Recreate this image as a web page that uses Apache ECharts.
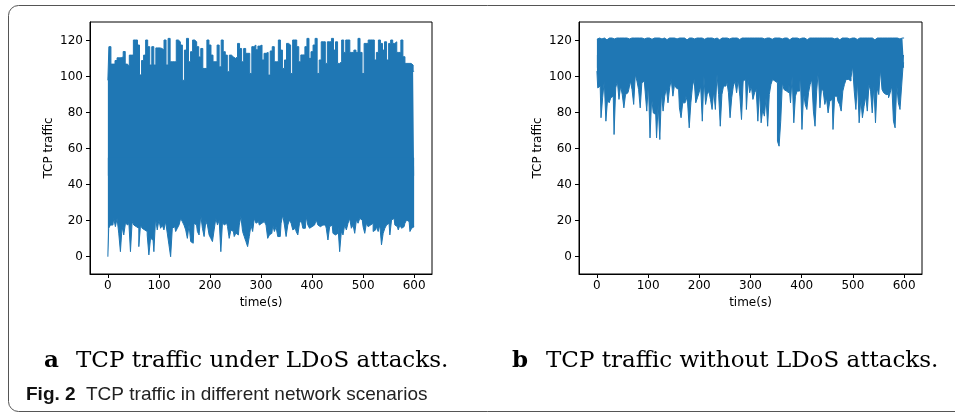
<!DOCTYPE html>
<html>
<head>
<meta charset="utf-8">
<script src="https://cdn.jsdelivr.net/npm/echarts@6/dist/echarts.min.js"></script>
<style>
  html, body { margin: 0; padding: 0; background: #fff; }
  #chart { width: 955px; height: 412px; }
</style>
</head>
<body>
<div id="chart"></div>
<script>
// time axis is 0..600 s
const duration = 600;
const xTicks = [0, 100, 200, 300, 400, 500, 600];
const yTicks = [0, 20, 40, 60, 80, 100, 120];

// (a) under LDoS attacks: upper and lower envelope of the trace
const peaksA = [98, 116.7, 107, 107, 109, 110.5, 110.5, 111, 114, 107, 106, 112, 112, 120.4, 120.4, 117.6, 101, 109, 112, 120.4,
  116.7, 106.5, 116.7, 106.5, 116, 116, 115.7, 114.8, 120.4, 106.5, 121.3, 108.3, 108.3, 108.3, 120.4, 119.4, 117.6, 98, 114.8, 121.3,
  108.3, 113.9, 120.4, 119.4, 116.7, 111, 115.7, 104.6, 104.6, 120.4, 117.6, 112, 108.3, 108.3, 117.6, 105.5, 120.4, 113.9, 112, 102.8,
  112, 111, 110.2, 111, 118.5, 115.7, 108.3, 115.7, 113, 113, 101.8, 116.7, 117.6, 115, 117,
  117.6, 109.3, 113, 113.5, 100.9, 114.3, 116.7, 108.3, 108.3, 120.4, 114.8, 104.6, 109.3, 118.5, 117.6, 101.8, 120.4, 120.4, 116.7, 108.3,
  112.1, 112.1, 116.7, 121.3, 110.2, 113.9, 117.6, 121.3, 101.8, 109.3, 119.4, 119.4, 107.4, 119.4, 119.4, 121.3, 114.8, 119.4, 107.4, 108.3,
  120.4, 113.5, 120.4, 120.4, 113.5, 113.5, 114.8, 113.5, 121.3, 113.5, 101.8, 118.5, 118.5, 120.4, 120.4, 120.4, 109.3, 113.5, 120.4, 118.5,
  114.8, 119.4, 109.3, 118.5, 120.4, 118.5, 119.4, 113.5, 113.5, 120.4, 111.1, 107.4, 107.4, 107.4, 106.5, 103];
const troughsA = [0, 15.8, 17.6, 17.6, 21.3, 16.7, 21.3, 13.1, 2.8, 16.7, 12.1, 18.6, 17.6, 19.5, 2.8, 19.5, 17.6, 16.7, 15.8, 5.6,
  17.6, 15.8, 14.9, 14.0, 12.1, 1.0, 10.2, 9.3, 2.8, 21.3, 14.9, 20.4, 15.8, 17.6, 14.9, 19.5, 13.1, 6.6, 0, 15.8,
  16.7, 14.0, 15.8, 17.6, 21.3, 19.5, 17.6, 14.9, 10.2, 17.6, 8.4, 7.5, 18.6, 17.6, 14.0, 12.1, 23.2, 15.8, 11.2, 19.5,
  17.6, 12.1, 10.2, 8.4, 14.9, 21.3, 17.6, 20.4, 2.8, 19.5, 17.6, 18.6, 16.7, 10.2, 14.9, 14.0, 11.2, 13.1, 12.1, 17.6,
  22.3, 14.0, 11.2, 8.4, 5.6, 11.2, 17.6, 14.0, 21.3, 18.6,
  19.5, 17.6, 18.6, 19.5, 20.4, 17.6, 10.2, 12.1, 13.0, 17.6, 14.0, 16.7, 11.2, 11.2, 18.6, 23.2, 17.6, 11.2, 17.6, 20.4,
  18.6, 14.9, 15.8, 14.0, 12.1, 18.6, 20.4, 15.8, 15.8, 22.3, 17.6, 15.8, 16.7, 17.6, 18.6, 20.4, 17.6, 16.7, 17.6, 16.7,
  17.6, 15.8, 9.3, 16.7, 17.6, 13.0, 12.1, 13.0, 16.7, 2.8, 14.0, 12.1, 17.6, 14.9, 18.6, 21.3, 15.8, 17.6, 13.0, 20.4,
  18.6, 21.3, 20.4, 16.7, 13.0, 18.6, 16.7, 17.6, 18.6, 14.0, 14.9, 16.7, 14.0, 17.6, 6.6, 13.0, 15.8, 17.6, 18.6, 12.1,
  20.4, 21.3, 17.6, 16.7, 14.9, 17.6, 15.8, 16.7, 18.6, 20.4, 19.5, 14.0, 15.8, 16.7];

// (b) without LDoS attacks
const peaksB = [120.8, 121.5, 121.5, 121, 121.5, 121.5, 120.5, 121.5, 121.5, 121.5, 121, 121.5, 121.5, 121.5, 120.8, 121.5, 121.5, 121.5, 121.5, 121,
  121.5, 121.5, 121.5, 120.5, 121.5, 121.5, 121.5, 121.5, 121, 121.5, 121.5, 121.5, 121.5, 120.8, 121.5, 121.5, 121.5, 121.5, 121.5, 121,
  121.5, 121.5, 120.6, 121.5, 121.5, 121.5, 121.5, 121.5, 121, 121.5, 121.5, 121.5, 121.5, 121.5, 120.5, 121.5, 121.5, 121.5, 121, 121.5,
  121.5, 121.5, 121.5, 121.5, 120.8, 121.5, 121.5, 121.5, 121.5, 121.5, 121, 121.5, 121.5, 120.5, 121.5, 121.5, 121.5, 121.5, 121.5, 121,
  121.5, 121.5, 121.5, 121.5, 121.5, 120.7, 121.5, 121.5, 121.5, 121, 121.5, 121.5, 121.5, 121.5, 121.5, 120.5, 121.5, 121.5, 121.5, 121.5,
  121, 121.5, 121.5, 121.5, 121.5, 120.8, 121.5, 121.5, 121.5, 121.5, 121.5, 121, 121.5, 121.5, 121.5, 120.5, 121.5, 121.5, 121.5, 121.5,
  121.5, 121, 121.5, 121.5, 121.5, 121.5, 120.6, 121.5, 121.5, 121.5, 121.5, 121, 121.5, 121.5, 121.5, 121.5, 121.5, 120.8, 121.5, 121.5,
  121.5, 121.5, 121, 121.5, 121.5, 120.5, 121.5, 121.5, 121.5, 121.5, 121.5, 121, 121.5, 121.5, 121.5, 121.5, 120.7, 121.5, 121.5, 121.5,
  121.5, 121, 121.5, 121.5, 121.5, 121.5, 120.5, 121.5, 121.5, 121.5, 121, 121.5, 121.5, 121.5, 121.5, 121.5, 120.8, 121.5, 121.5, 121.5,
  121.5, 121, 121.5, 121.5, 121.5];
const troughsB = [103.1, 93.8, 94.8, 77.2, 88.3, 97.6, 75.3, 87.4, 85.5, 88.3, 89.2, 67.9, 93.8, 97.6, 87.4, 94.8, 90.1, 82.7, 90.1, 91.1,
  92.9, 97.6, 92.9, 84.6, 101.3, 97.6, 92.9, 82.7, 96.6, 97.6, 92.0, 80.9, 96.6, 66.0, 88.3, 79.9, 79.0, 66.0, 84.6, 65.1,
  91.1, 80.9, 89.2, 93.8, 85.5, 93.8, 98.5, 89.2, 95.7, 93.8, 92.9, 82.7, 77.2, 85.5, 85.5, 89.2, 85.5, 71.6, 85.5, 94.8,
  98.5, 85.5, 88.3, 91.1, 94.8, 75.3, 100.3, 84.6, 90.1, 92.0, 87.4, 81.8, 92.0, 81.8, 101.3, 90.1, 72.5, 90.1, 94.8, 94.8,
  97.6, 91.1, 77.2, 88.3, 94.8, 97.6, 91.1, 98.5, 89.2, 76.2, 97.6, 98.5, 81.8, 98.5, 91.1,
  94.8, 87.4, 91.1, 92.9, 75.3, 92.9, 74.4, 81.8, 78.1, 88.3, 72.5, 90.1, 95.7, 98.5, 97.6, 96.6, 64.2, 61.4, 75.3, 96.6,
  92.9, 92.0, 91.1, 95.7, 85.5, 100.3, 74.4, 89.2, 92.0, 92.0, 102.2, 70.7, 91.1, 84.6, 81.8, 91.1, 95.7, 98.5, 80.9, 72.5,
  92.0, 103.1, 82.7, 93.8, 92.0, 84.6, 88.3, 79.9, 86.4, 87.4, 70.7, 89.2, 89.2, 86.4, 84.6, 80.9, 92.0, 95.7, 98.5, 98.5,
  97.6, 99.4, 105.9, 92.0, 81.8, 97.6, 74.4, 87.4, 77.2, 83.6, 89.2, 80.9, 95.7, 92.0, 79.9, 94.8, 74.4, 93.8, 90.1, 104.1,
  92.9, 91.1, 90.1, 90.1, 88.3, 91.1, 94.8, 75.3, 71.6, 95.7, 85.5, 81.8, 94.8, 107.7];

// each envelope on its own time grid
function onTime(values) {
  return values.map((v, i) => [duration * i / (values.length - 1), v]);
}

const blue = "#1f77b4";
const tickFont = { color: "#000", fontSize: 12, fontFamily: "DejaVu Sans" };

function xAxis(i) {
  return {
    type: "value",
    gridIndex: i,
    min: -35,
    max: 635,
    name: "time(s)",
    nameLocation: "middle",
    nameGap: 23,
    nameTextStyle: tickFont,
    axisLine: { show: true, onZero: false, lineStyle: { color: "#000", width: 1 } },
    axisTick: { show: true, length: 4, customValues: xTicks, lineStyle: { color: "#000" } },
    axisLabel: Object.assign({ margin: 6, customValues: xTicks }, tickFont),
    splitLine: { show: false },
  };
}

function yAxis(i) {
  return {
    type: "value",
    gridIndex: i,
    min: -9.6,
    max: 130.4,
    name: "TCP traffic",
    nameLocation: "middle",
    nameGap: 35,
    nameRotate: 90,
    nameTextStyle: tickFont,
    axisLine: { show: true, onZero: false, lineStyle: { color: "#000", width: 1 } },
    axisTick: { show: true, length: 4, customValues: yTicks, lineStyle: { color: "#000" } },
    axisLabel: Object.assign({ margin: 7, customValues: yTicks }, tickFont),
    splitLine: { show: false },
  };
}

// envelope drawn as steps, filled past the middle of the band so the two halves overlap
function envelope(i, values, origin) {
  return {
    type: "line",
    xAxisIndex: i,
    yAxisIndex: i,
    data: onTime(values),
    step: "middle",
    showSymbol: false,
    sampling: "none",
    lineStyle: { width: 1, color: blue },
    areaStyle: { color: blue, opacity: 1, origin: origin },
    z: 2,
  };
}

const capSerif = { fontFamily: "DejaVu Serif", fontSize: 23, color: "#000", fontWeight: "normal" };
const capSans = { fontFamily: "Liberation Sans Narrow, Liberation Sans", fontSize: 19, color: "#222", fontWeight: "normal" };

function caption(letter, boxWidth, text) {
  return {
    text: "{b|" + letter + "}{n|" + text + "}",
    textStyle: Object.assign({
      rich: { b: Object.assign({}, capSerif, { fontWeight: "bold", width: boxWidth }), n: capSerif },
    }, capSerif),
  };
}

const chart = echarts.init(document.getElementById("chart"), null, { renderer: "canvas" });
chart.setOption({
  animation: false,
  backgroundColor: "#fff",
  grid: [
    { left: 90, top: 22, width: 342, height: 252, show: true, borderColor: "#000", borderWidth: 1 },
    { left: 579, top: 22, width: 343, height: 252, show: true, borderColor: "#000", borderWidth: 1 },
  ],
  xAxis: [xAxis(0), xAxis(1)],
  yAxis: [yAxis(0), yAxis(1)],
  series: [
    envelope(0, peaksA, 45),
    envelope(0, troughsA, 55),
    envelope(1, peaksB, 105),
    envelope(1, troughsB, 112),
  ],
  title: [
    Object.assign({ left: 39, top: 345 }, caption("a", 32, "TCP traffic under LDoS attacks.")),
    Object.assign({ left: 507, top: 345 }, caption("b", 34, "TCP traffic without LDoS attacks.")),
    {
      left: 21, top: 380,
      text: "{f|Fig. 2}{n|TCP traffic in different network scenarios}",
      textStyle: Object.assign({
        rich: { f: Object.assign({}, capSans, { fontWeight: "bold", color: "#111", width: 60 }), n: capSans },
      }, capSans),
    },
  ],
  graphic: [
    {
      type: "rect",
      silent: true,
      shape: { x: 8.5, y: 5.5, width: 1000, height: 406, r: 10 },
      style: { fill: "none", stroke: "#555", lineWidth: 1 },
    },
  ],
});
</script>
</body>
</html>
